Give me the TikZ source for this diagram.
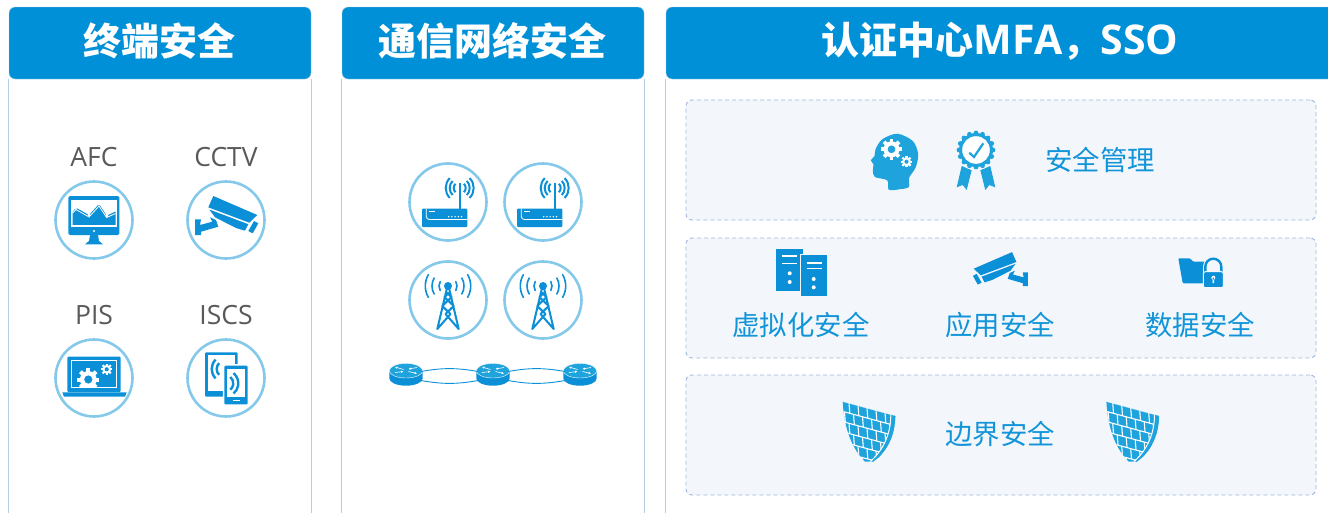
\documentclass[tikz,border=0pt]{standalone}
\usepackage{fontspec}
\usetikzlibrary{arrows.meta}
\setmainfont{Open Sans}
\newfontfamily\cjkfont{Noto Sans CJK SC}
\definecolor{headblue}{HTML}{0090D7}
\definecolor{iconblue}{HTML}{0B90D8}
\definecolor{iconsky}{HTML}{1FA3DD}
\definecolor{ringblue}{HTML}{85C9EA}
\definecolor{panelline}{HTML}{B5CDE5}
\definecolor{boxline}{HTML}{A0B6DC}
\definecolor{boxfill}{HTML}{F3F7FC}
\definecolor{labelgrey}{HTML}{595959}
\definecolor{labelblue}{HTML}{1194D8}
\newcommand\shieldpath{(-26.3,-30) -- (26.3,-15.7) .. controls (26,6) and (16,22) .. (4,30) -- (-4,30) .. controls (-18,16) and (-25,-5) .. (-26.3,-30) -- cycle}

\begin{document}
\begin{tikzpicture}[
    x=1pt,
    y=-1pt,
    headbar/.style = {
        draw=panelline,
        fill=headblue,
        rounded corners=6pt,
        minimum height=72pt,
    },
    headtext/.style = {
        text=white,
        font=\cjkfont\bfseries\fontsize{38}{40}\selectfont,
    },
    bodyline/.style = {
        draw=panelline,
        line width=1.2pt,
    },
    iconring/.style = {
        circle,
        draw=ringblue,
        line width=2.6pt,
        fill=white,
        minimum size=77pt,
        inner sep=0pt,
    },
    zonebox/.style = {
        draw=boxline,
        dash pattern=on 4pt off 3pt,
        line width=.9pt,
        fill=boxfill,
        rounded corners=6pt,
        minimum width=630pt,
        minimum height=120pt,
    },
    termlabel/.style = {
        text=labelgrey,
        font=\fontsize{26.5}{28}\selectfont,
    },
    zonelabel/.style = {
        text=labelblue,
        font=\cjkfont\fontsize{27.4}{30}\selectfont,
    },
    gear/.pic = {
        \foreach \a in {0,45,...,315} {
            \fill [white, rotate=\a] (-1.9,-10.5) rectangle (1.9,-6);
        }
        \fill [white, even odd rule] (0,0) circle (8) (0,0) circle (4);
    },
    monitor/.pic = {
        \fill [iconblue, rounded corners=1.5pt] (-25.7,-24) rectangle (25.3,15);
        \fill [white] (-22.7,-20) rectangle (22.7,6.7);
        \fill [iconblue] (-21.5,-8) -- (-18,-12.3) -- (-5,-5) -- (5,-16) -- (12.7,-4.3) -- (21.5,-8.5) -- (21.5,4.8) -- (-21.5,4.8) -- cycle;
        \draw [white, line width=.8pt] (-21.5,-7) -- (-18,-10.5) -- (-5,-3) -- (5,-14) -- (12.7,-2.5) -- (21.5,-6.5);
        \foreach \p in {(-18,-12.3), (-5,-5), (5,-16), (12.7,-4.3)} {
            \fill [white] \p circle (1.6);
        }
        \fill [white] (0,11) circle (1.1);
        \fill [iconblue] (-4,15) -- (4,15) -- (5,21) -- (9,24.3) -- (-9,24.3) -- (-5,21) -- cycle;
    },
    camera/.pic = {
        \fill [iconblue] (-12.7,-24) -- (31.3,-5) -- (23.3,2.7) -- (-17.7,-12.7) -- cycle;
        \fill [iconblue] (-16.7,-10.5) -- (22.3,4.2) -- (19,10.7) -- (10,8) -- (-11,-2.7) -- cycle;
        \fill [iconblue] (28,1) -- (32.3,3.3) -- (26.7,13.3) -- (22.3,11) -- cycle;
        \fill [iconblue] (-31,-.7) -- (-25,-.7) -- (-26,5) -- (-13.7,1.7) -- (-16,-2.7) -- (-10,0) -- (-7.7,6.7) -- (-25,11.7) -- (-25,15) -- (-31,15) -- cycle;
    },
    laptop/.pic = {
        \fill [iconblue, rounded corners=1pt] (-26.7,-21.3) rectangle (26.7,14);
        \draw [white, line width=.7pt] (-22.7,-18) rectangle (22.7,9.7);
        \pic [scale=1.05] at (-5.7,1.5) {gear};
        \pic [scale=.55] at (12.7,-8.7) {gear};
        \fill [iconblue] (-24,10.1) rectangle (24,14.3);
        \fill [iconblue] (-31.7,14.3) -- (32.7,14.3) -- (31,18.7) -- (-30,18.7) -- cycle;
    },
    handset/.pic = {
        \fill [iconblue, rounded corners=1pt] (-21,-25.7) rectangle (11.7,18.7);
        \fill [white] (-18.3,-22.7) rectangle (9,12.5);
        \fill [white, rounded corners=1pt] (-3.2,-13.8) rectangle (23.2,27.8);
        \fill [iconblue, rounded corners=1pt] (-1.7,-12.3) rectangle (21.7,26.3);
        \fill [white] (.7,-9) rectangle (19,18.7);
        \fill [white] (6.5,21.5) rectangle (13.5,23);
        \foreach \r in {8.3,13.3} {
            \draw [iconblue, line width=2.4pt] (-1,-9) ++(135:\r) arc [start angle=135, end angle=225, radius=\r];
            \draw [iconblue, line width=2.4pt] (-1,5.3) ++(-50:\r) arc [start angle=-50, end angle=50, radius=\r];
        }
    },
    wifibox/.pic = {
        \fill [iconblue, rounded corners=1pt] (-26,6.7) rectangle (19.3,25);
        \draw [white, line width=.8pt, rounded corners=3pt] (-21.7,6.7) -- (-21.7,17.5) -- (19.3,17.5);
        \draw [white, line width=.8pt] (-19,9) -- (-13.5,9);
        \foreach \x in {.7,3.9,7.1,10.3,13.5} {
            \fill [white] (\x,14.7) circle (.8);
        }
        \draw [iconblue, line width=1.6pt] (11.7,-19) -- (11.7,7);
        \foreach \r in {6,10,14} {
            \draw [iconblue, line width=2pt] (11.7,-14) ++(135:\r) arc [start angle=135, end angle=225, radius=\r];
            \draw [iconblue, line width=2pt] (11.7,-14) ++(-45:\r) arc [start angle=-45, end angle=45, radius=\r];
        }
    },
    tower/.pic = {
        \fill [iconblue] (0,-14) circle (4);
        \draw [iconblue, line width=2pt, line join=round] (-1,-12) -- (-10.7,29) -- (2.5,14) -- (-5.7,6) -- (3.5,-3) -- (-2,-8) (1,-12) -- (10.7,29) -- (-2.5,14) -- (5.7,6) -- (-3.5,-3) -- (2,-8);
        \foreach \r in {9,16,22.7} {
            \draw [iconblue, line width=1.6pt, line cap=round] (0,-14) ++(150:\r) arc [start angle=150, end angle=210, radius=\r];
            \draw [iconblue, line width=1.6pt, line cap=round] (0,-14) ++(-30:\r) arc [start angle=-30, end angle=30, radius=\r];
        }
    },
    switchdisc/.pic = {
        \coordinate (-ul) at (-15,-2.5);
        \coordinate (-ur) at (15,-2.5);
        \coordinate (-ll) at (-15,6.5);
        \coordinate (-lr) at (15,6.5);
        \fill [iconblue] (-16.7,-3.3) -- (-16.7,4.4) arc [start angle=180, end angle=0, x radius=16.7, y radius=7.3] -- (16.7,-3.3) -- cycle;
        \fill [iconsky, draw=white, line width=.4pt] (0,-3.3) ellipse [x radius=16.7, y radius=7.3];
        \draw [white, line width=.6pt, -{Latex[length=2.4pt,width=2.4pt]}] (-2.5,-4.5) -- (-11,-7);
        \draw [white, line width=.6pt, -{Latex[length=2.4pt,width=2.4pt]}] (-11,-1.5) -- (-2.5,-2.5);
        \draw [white, line width=.6pt, -{Latex[length=2.4pt,width=2.4pt]}] (2.5,-2.5) -- (11,-.5);
        \draw [white, line width=.6pt, -{Latex[length=2.4pt,width=2.4pt]}] (11,-6.5) -- (2.5,-5);
    },
    headgear/.pic = {
        \fill [iconsky] plot [smooth cycle, tension=.5] coordinates {
            (-6.7,28.7) (4,28.3) (13.3,26) (13.7,16.7) (20,6.7) (22.7,-6.7) (17.3,-20) (1.7,-27.3)
            (-13.3,-21.7) (-20,-11.7) (-21,-5) (-24.7,-.7) (-22,3.3) (-22.7,9.3) (-20.7,16) (-8.3,19.3)};
        \pic at (-4,-11.7) {gear};
        \pic [scale=.55] at (11,.7) {gear};
    },
    rosette/.pic = {
        \fill [iconsky] (-14.3,6) -- (-4.3,10) -- (-9.3,30) -- (-13.3,25) -- (-19.3,27.3) -- cycle;
        \fill [iconsky] (14.3,6) -- (4.3,10) -- (9.3,30) -- (13.3,25) -- (19.3,27.3) -- cycle;
        \draw [boxfill, line width=1pt] (0,-10) circle (19.8);
        \fill [iconsky] (0,-10) circle (17);
        \foreach \a in {0,22.5,...,337.5} {
            \fill [iconsky] (0,-10) ++(\a:17) circle (2.4);
        }
        \fill [white] (0,-10) circle (13.8);
        \draw [iconsky, line width=2.2pt] (-6.7,-7.3) -- (-2,-3) -- (7.3,-16.7);
    },
    pagepair/.pic = {
        \fill [iconblue] (-25.5,-23.5) rectangle (1.8,18.2);
        \draw [white, line width=1.6pt] (-19.2,-16.5) -- (-4.2,-16.5) (-19.2,-9.2) -- (-4.2,-9.2);
        \fill [white] (-11.8,.8) circle (2) (-11.8,9.5) circle (2);
        \fill [iconblue, draw=boxfill, line width=.5pt] (-1.5,-18.2) rectangle (25.8,23.5);
        \draw [white, line width=1.6pt] (5.2,-9.8) -- (20.2,-9.8) (5.2,-4.2) -- (20.2,-4.2);
        \fill [white] (12.2,6.5) circle (2) (12.2,14.8) circle (2);
    },
    lockfolder/.pic = {
        \fill [iconblue, rounded corners=1pt] (-22.2,-14.2) -- (-10.5,-14.2) -- (-7.2,-10.8) -- (5.5,-10.8) -- (5.5,10.8) -- (-17.8,10.8) -- cycle;
        \draw [boxfill, line width=4.5pt] (4.8,2) -- (4.8,-5.8) arc [start angle=180, end angle=360, radius=8] -- (20.8,2);
        \draw [iconblue, line width=2.4pt] (4.8,2) -- (4.8,-5.8) arc [start angle=180, end angle=360, radius=8] -- (20.8,2);
        \fill [iconblue, rounded corners=2pt, draw=boxfill, line width=1pt] (2.8,-.8) rectangle (22.8,15.2);
        \fill [white] (12.8,5.2) circle (2) (12,5.2) rectangle (13.6,10.5);
    },
    firewall/.pic = {
        \fill [iconsky] \shieldpath;
        \begin{scope}
            \clip \shieldpath;
            \foreach \row in {0,...,6} {
                \pgfmathsetmacro\rowy{-31.5+10.2*\row}
                \draw [white, line width=1.1pt] (-30,\rowy) -- ++(60,16.3);
                \foreach \col in {0,...,6} {
                    \pgfmathsetmacro\colx{-29+9*\col+4.5*mod(\row,2)}
                    \pgfmathsetmacro\coly{\rowy+(\colx+30)*.27}
                    \draw [white, line width=1.1pt] (\colx,\coly) -- ++(.8,10.2);
                }
            }
            \fill [iconsky] (22,-17) -- (30,-15) -- (30,32) -- (0,32) .. controls (13,20) and (22,4) .. (22,-17);
            \draw [white, line width=1pt] (21.8,-17) .. controls (21.8,4) and (13,20) .. (0,31);
        \end{scope}
    },
]
\clip (0,0) rectangle (1328,512);
% panels
\node (endhead) [headbar, minimum width=302pt] at (160,43) {};
\node (nethead) [headbar, minimum width=302pt] at (493,43) {};
\node (authhead) [headbar, minimum width=668pt] at (1000,43) {};
\draw [bodyline] (endhead.south west) -- ++(0,450);
\draw [bodyline] (endhead.south east) -- ++(0,450);
\draw [bodyline] (nethead.south west) -- ++(0,450);
\draw [bodyline] (nethead.south east) -- ++(0,450);
\draw [bodyline] (authhead.south west) -- ++(0,450);
\node (endtitle) [headtext] at (159,41) {终端安全};
\node (nettitle) [headtext] at (492,41) {通信网络安全};
\node (authtitle) [headtext] at (1000,41) {认证中心{\rmfamily\fontsize{41}{43}\selectfont MFA}，{\rmfamily\fontsize{41}{43}\selectfont SSO}};
% terminals
\node (afclabel) [termlabel] at (94,157) {AFC};
\node (cctvlabel) [termlabel] at (226,157) {CCTV};
\node (pislabel) [termlabel] at (94,315) {PIS};
\node (iscslabel) [termlabel] at (226,315) {ISCS};
\node (afc) [iconring] at (94,220) {};
\node (cctv) [iconring] at (226,220) {};
\node (pis) [iconring] at (94,378) {};
\node (iscs) [iconring] at (226,378) {};
\pic at (afc) {monitor};
\pic at (cctv) {camera};
\pic at (pis) {laptop};
\pic at (iscs) {handset};
% network
\node (wifia) [iconring] at (448,202) {};
\node (wifib) [iconring] at (543,202) {};
\node (towera) [iconring] at (448,300) {};
\node (towerb) [iconring] at (543,300) {};
\pic at (wifia) {wifibox};
\pic at (wifib) {wifibox};
\pic at (towera) {tower};
\pic at (towerb) {tower};
\pic (swa) at (406,374) {switchdisc};
\pic (swb) at (493,374) {switchdisc};
\pic (swc) at (580,374) {switchdisc};
\draw [iconblue, line width=.9pt] (swa-ur) to [bend left=10] (swb-ul);
\draw [iconblue, line width=.9pt] (swb-ur) to [bend left=10] (swc-ul);
\draw [iconblue, line width=.9pt] (swa-lr) to [bend right=10] (swb-ll);
\draw [iconblue, line width=.9pt] (swb-lr) to [bend right=10] (swc-ll);
% zones
\node (mgmtzone) [zonebox] at (1001,160) {};
\node (appzone) [zonebox] at (1001,298) {};
\node (edgezone) [zonebox] at (1001,435) {};
\pic at (895.5,161) {headgear};
\pic at (976,160) {rosette};
\node (mgmtlabel) [zonelabel] at (1100,160) {安全管理};
\pic at (801.5,272.5) {pagepair};
\pic [xscale=-.87, yscale=.87] at (1001,273) {camera};
\pic at (1200.5,272.5) {lockfolder};
\node (virtlabel) [zonelabel] at (801,325) {虚拟化安全};
\node (applabel) [zonelabel] at (1000,325) {应用安全};
\node (datalabel) [zonelabel] at (1200,325) {数据安全};
\pic at (869,431.7) {firewall};
\pic at (1132.7,431.7) {firewall};
\node (edgelabel) [zonelabel] at (1000,434) {边界安全};
\end{tikzpicture}
\end{document}
